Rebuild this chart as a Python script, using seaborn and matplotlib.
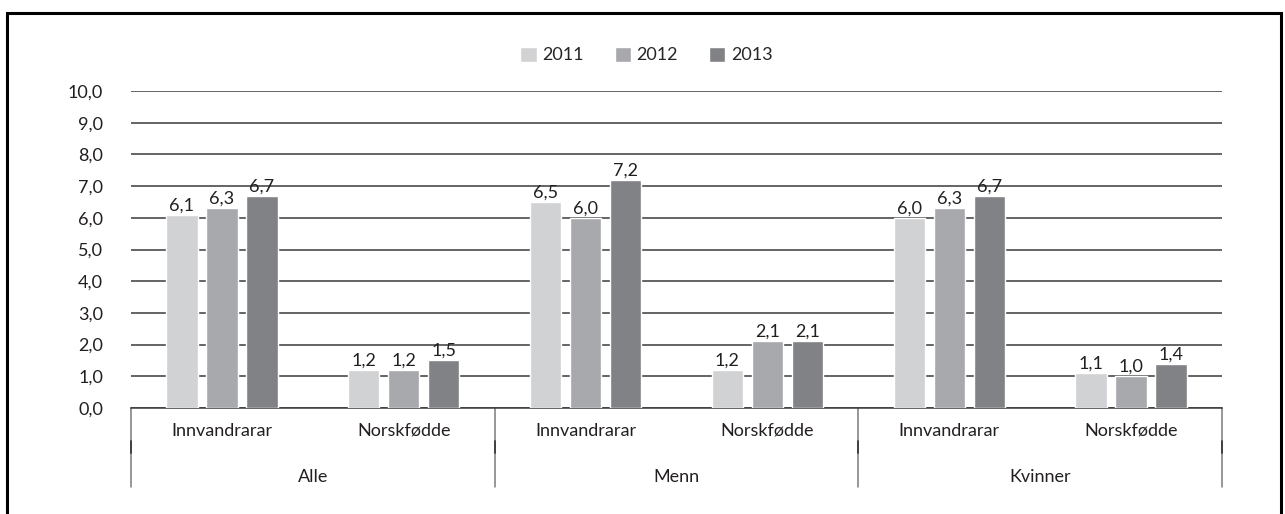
import matplotlib
matplotlib.use("Agg")
import matplotlib.pyplot as plt
import seaborn as sns
import pandas as pd
from matplotlib.patches import Rectangle
from matplotlib.transforms import blended_transform_factory

# ---- data ----
groups = ["Alle", "Menn", "Kvinner"]
subcats = ["Innvandrarar", "Norskfødde"]
years = ["2011", "2012", "2013"]
v2011 = [6.1, 1.2, 6.5, 1.2, 6.0, 1.1]
v2012 = [6.3, 1.2, 6.0, 2.1, 6.3, 1.0]
v2013 = [6.7, 1.5, 7.2, 2.1, 6.7, 1.4]
yticks = [0, 1, 2, 3, 4, 5, 6, 7, 8, 9, 10]
colors = {"2011": "#D1D2D4", "2012": "#A7A9AC", "2013": "#808285"}

cats = [f"{g}|{s}" for g in groups for s in subcats]
rows = []
for yr, vals in zip(years, [v2011, v2012, v2013]):
    for c, v in zip(cats, vals):
        rows.append({"kat": c, "år": yr, "verdi": v})
df = pd.DataFrame(rows)

sns.set_theme(style="white")
plt.rcParams["font.family"] = ["Lato", "DejaVu Sans"]
FS = 13
TC = "#231F20"

fig = plt.figure(figsize=(12.85, 5.14), dpi=100)
ax = fig.add_axes([131 / 1285, 1 - 408 / 514, (1222 - 131) / 1285, (408 - 91) / 514])

sns.barplot(data=df, x="kat", y="verdi", hue="år", order=cats, hue_order=years,
            palette=colors, saturation=1, width=0.66, gap=0.22, ax=ax,
            legend=True, zorder=3)

ax.set_xlim(-0.5, len(cats) - 0.5)
ax.set_ylim(0, 10)
ax.set_yticks(yticks)
ax.set_yticklabels([f"{t:.1f}".replace(".", ",") for t in yticks], fontsize=FS, color=TC)
ax.tick_params(axis="y", length=0, pad=20)
ax.set_xticks([])
ax.set_xlabel("")
ax.set_ylabel("")
ax.yaxis.grid(True, color="#3a3a3a", linewidth=1.1)
ax.set_axisbelow(True)
for s in ["left", "right", "top"]:
    ax.spines[s].set_visible(False)
ax.spines["bottom"].set_color("#3a3a3a")
ax.spines["bottom"].set_linewidth(1.1)

# data labels
for cont in ax.containers:
    ax.bar_label(cont, labels=[f"{b.get_height():.1f}".replace(".", ",") for b in cont],
                 padding=1, fontsize=FS, color=TC)

# two-level category axis
tr = blended_transform_factory(ax.transData, ax.transAxes)
for i, c in enumerate(cats):
    ax.text(i, -0.072, c.split("|")[1], transform=tr, ha="center", va="center",
            fontsize=FS, color=TC)
for gi, g in enumerate(groups):
    ax.text(gi * 2 + 0.5, -0.218, g, transform=tr, ha="center", va="center",
            fontsize=FS, color=TC)
for xb in [-0.5, 1.5, 3.5, 5.5]:
    ax.plot([xb, xb], [0, -0.249], transform=tr, color="#7a7a7a", lw=1.1, clip_on=False)
    ax.plot([xb, xb], [-0.104, -0.142], transform=tr, color="#3a3a3a", lw=1.3, clip_on=False)

# legend
handles, labels = ax.get_legend_handles_labels()
ax.get_legend().remove()
fig.legend(handles, labels, loc="center", bbox_to_anchor=(0.503, 1 - 55 / 514), ncol=3,
           frameon=False, fontsize=FS, handlelength=0.92, handleheight=0.92,
           handletextpad=0.3, columnspacing=1.7)

# outer frame
fig.add_artist(Rectangle((6.5 / 1285, -0.1), (1281 - 6.5) / 1285, 1.1 - 13.5 / 514,
                         transform=fig.transFigure, fill=False, edgecolor="black", lw=2.2))

fig.savefig("out.png", dpi=100)
